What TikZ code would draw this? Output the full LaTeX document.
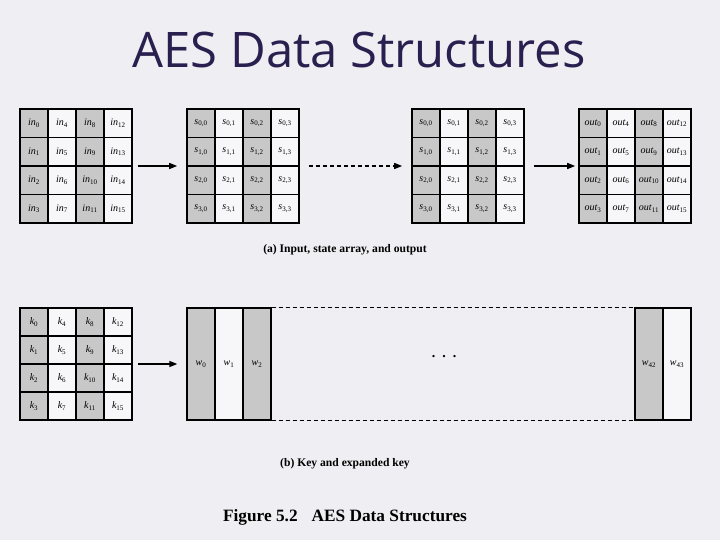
\documentclass[tikz,border=0pt]{standalone}
\usepackage{fontspec}
\setmainfont{Liberation Serif}
\newfontfamily\titlefont{Open Sans}
\usetikzlibrary{arrows.meta}
\definecolor{bg}{HTML}{EFEFF3}
\definecolor{shade}{HTML}{C8C8C8}
\definecolor{cellwhite}{HTML}{F7F7F9}
\definecolor{titlecol}{HTML}{2A2050}
\newcommand\sbs[1]{\textsubscript{\upshape #1}}
\tikzset{
  cell/.style={draw, line width=1.1pt, minimum width=28pt, inner sep=0pt,
    font=\fontsize{10}{11}\selectfont\itshape},
  frame/.style={draw, line width=1.6pt, inner sep=0pt, minimum width=112pt},
  wcell/.style={draw, line width=1.3pt, minimum width=28pt, minimum height=112pt, inner sep=0pt,
    font=\fontsize{10}{11}\selectfont\itshape},
  arr/.style={line width=1.4pt, -{Triangle[length=8pt,width=6pt]}},
  darr/.style={arr, dash pattern=on 4pt off 3pt},
  dline/.style={line width=1pt, dash pattern=on 4pt off 3pt},
  caption/.style={font=\fontsize{11.6}{13}\selectfont\bfseries},
}
\newcommand\aesgrid[5]{%
  \foreach \r in {0,...,3}{\foreach \c in {0,...,3}{%
    \pgfmathtruncatemacro\k{\r+4*\c}%
    \pgfmathtruncatemacro\odd{mod(\c,2)}%
    \ifnum\odd=0 \def\cf{shade}\else\def\cf{cellwhite}\fi
    \node[cell, fill=\cf, minimum height=#4pt] (#1-\r-\c) at (#2+14+28*\c, #3+#4/2+#4*\r) {#5};
  }}%
  \node[frame, minimum height=4*#4pt] (#1) at (#2+56, #3+2*#4) {};
}
\begin{document}
\begin{tikzpicture}[x=1pt,y=-1pt]
\fill[bg] (0,0) rectangle (720,540);
\useasboundingbox (0,0) rectangle (720,540);

\node[font=\titlefont\fontsize{49}{49}\selectfont, text=titlecol] (title) at (359,50) {AES Data Structures};

% (a)
\aesgrid{in}{20}{109}{28.5}{in\sbs{\k}}
\aesgrid{sa}{187}{109}{28.5}{s\sbs{\r,\c}}
\aesgrid{sb}{412}{109}{28.5}{s\sbs{\r,\c}}
\aesgrid{out}{579}{109}{28.5}{out\sbs{\k}}

\draw[arr] ([xshift=5pt]in.east) -- ([xshift=-9pt]sa.west);
\draw[darr] ([xshift=9pt]sa.east) -- ([xshift=-9pt]sb.west);
\draw[arr] ([xshift=9pt]sb.east) -- ([xshift=-3pt]out.west);

\node[caption] (capa) at (345,250) {(a) Input, state array, and output};

% (b)
\aesgrid{key}{20}{308}{28}{k\sbs{\k}}

\node[wcell, fill=shade] (w0) at (201,364) {w\sbs{0}};
\node[wcell, fill=cellwhite] (w1) at (229,364) {w\sbs{1}};
\node[wcell, fill=shade] (w2) at (257,364) {w\sbs{2}};
\node[wcell, fill=shade] (w42) at (649,364) {w\sbs{42}};
\node[wcell, fill=cellwhite] (w43) at (677,364) {w\sbs{43}};

\draw[dline] (w2.north east) -- (w42.north west);
\draw[dline] (w2.south east) -- (w42.south west);

\node[font=\fontsize{14}{14}\selectfont\bfseries] (dots) at (444,357) {.\hspace{7pt}.\hspace{7pt}.};

\draw[arr] ([xshift=5pt]key.east) -- ([xshift=-9pt]w0.west);

\node[caption] (capb) at (345,464) {(b) Key and expanded key};
\node[font=\fontsize{17.3}{19}\selectfont\bfseries] (fig) at (345,517) {Figure 5.2\hspace{0.8em}AES Data Structures};
\end{tikzpicture}
\end{document}
